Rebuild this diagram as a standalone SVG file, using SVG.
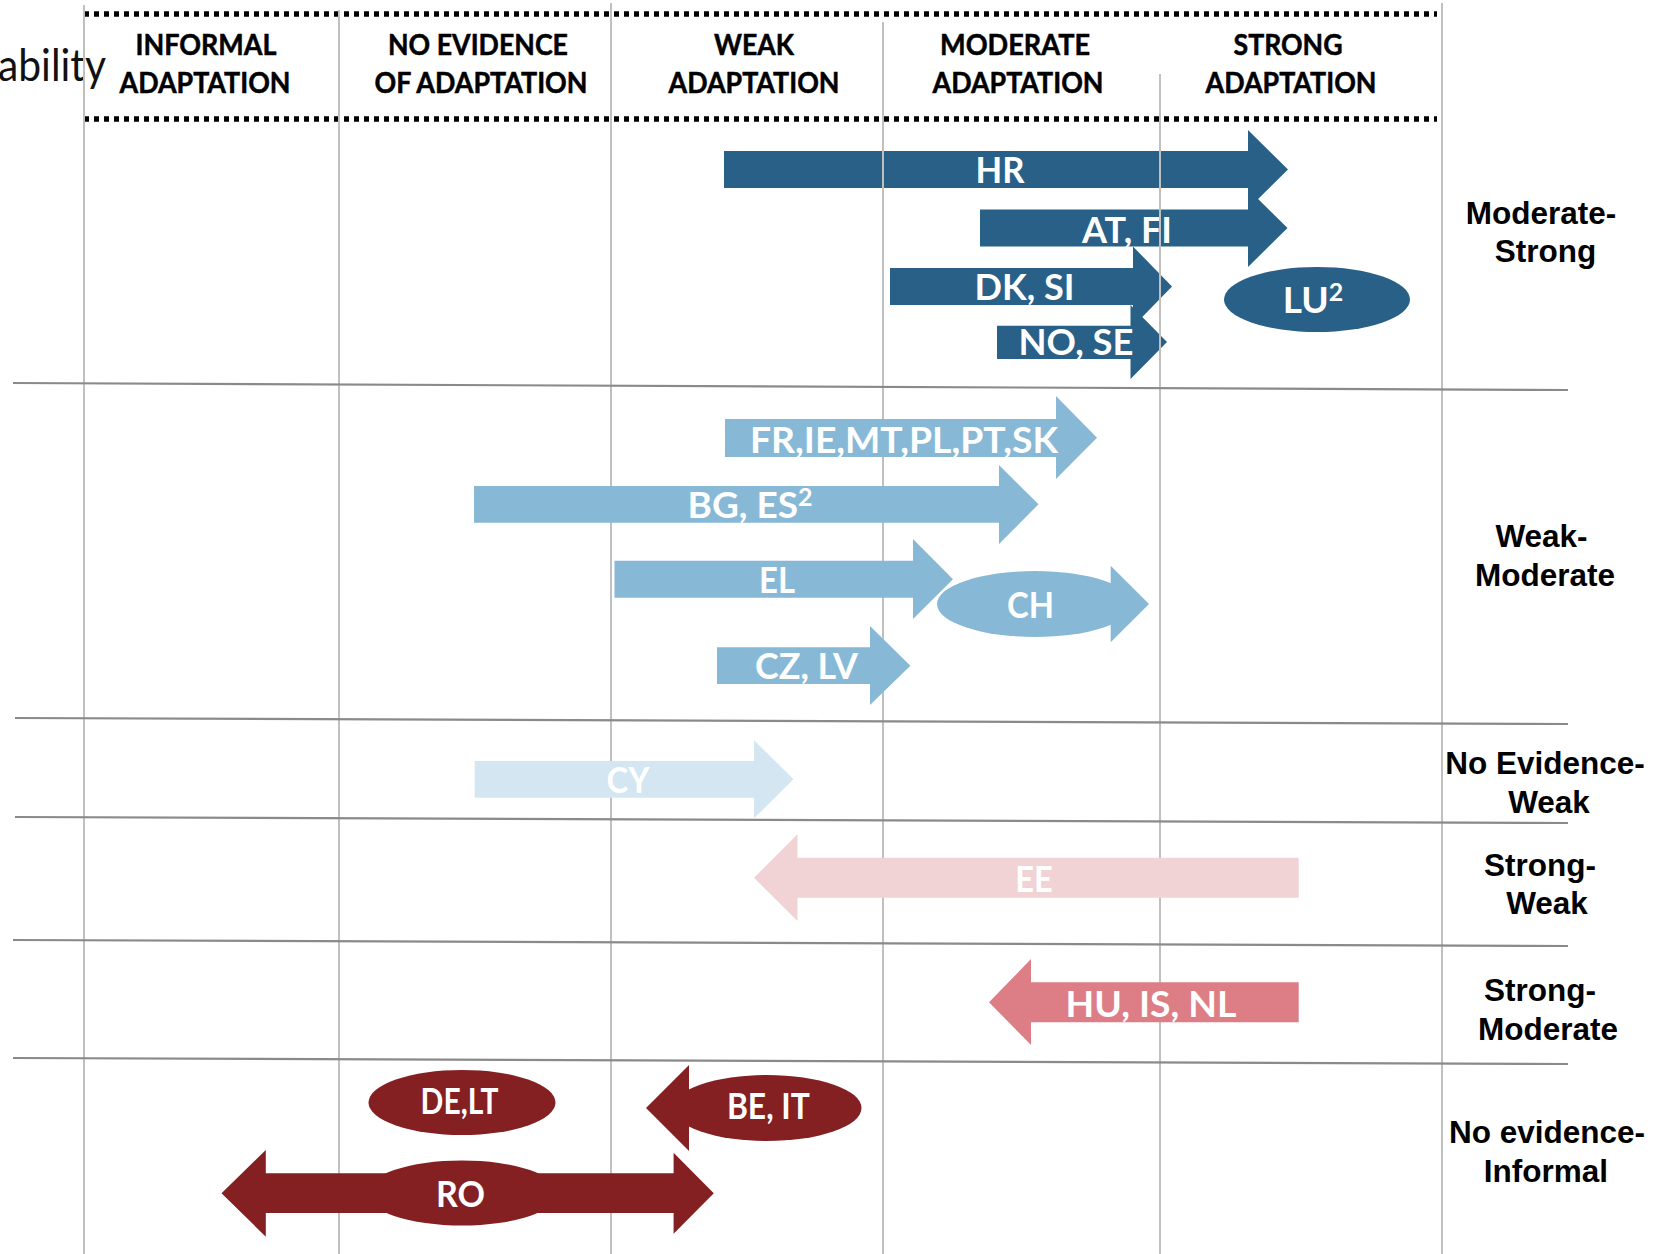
<svg xmlns="http://www.w3.org/2000/svg" width="1665" height="1254" viewBox="0 0 1665 1254">
<style>
.hdr{font-family:Lato,'Open Sans','Liberation Sans',sans-serif;font-weight:700;font-size:29px;fill:#000;stroke:#000;stroke-width:0.5;text-anchor:middle}
.lbl{font-family:Lato,'Open Sans','Liberation Sans',sans-serif;font-weight:700;font-size:37px;fill:#fff;text-anchor:middle}
.row{font-family:'Liberation Sans',Arial,sans-serif;font-weight:700;font-size:31.5px;fill:#000;text-anchor:middle}
.vg{stroke:#c0c0c0;stroke-width:2;fill:none}
.hg{stroke:#8a8a8a;stroke-width:2.2;fill:none}
.dot{stroke:#000;stroke-width:5.5;stroke-dasharray:5 5;fill:none}
.db{fill:#296087}
.lb{fill:#87b9d7}
.cy{fill:#d4e6f2}
.ee{fill:#f1d3d5}
.hu{fill:#dd7e87}
.dr{fill:#842022}
</style>
<rect width="1665" height="1254" fill="#fff"/>

<!-- header -->
<g id="header">
  <text x="106" y="81" font-family="Lato,'Open Sans',sans-serif" font-size="45" fill="#111" text-anchor="end" textLength="108" lengthAdjust="spacingAndGlyphs">ability</text>
  <line class="dot" x1="84" y1="14" x2="1437" y2="14"/>
  <line class="dot" x1="84" y1="119" x2="1437" y2="119"/>
  <text class="hdr" x="206" y="55" textLength="141" lengthAdjust="spacingAndGlyphs">INFORMAL</text>
  <text class="hdr" x="205" y="93" textLength="171" lengthAdjust="spacingAndGlyphs">ADAPTATION</text>
  <text class="hdr" x="478" y="55" textLength="180" lengthAdjust="spacingAndGlyphs">NO EVIDENCE</text>
  <text class="hdr" x="481" y="93" textLength="213" lengthAdjust="spacingAndGlyphs">OF ADAPTATION</text>
  <text class="hdr" x="754" y="55" textLength="80" lengthAdjust="spacingAndGlyphs">WEAK</text>
  <text class="hdr" x="754" y="93" textLength="171" lengthAdjust="spacingAndGlyphs">ADAPTATION</text>
  <text class="hdr" x="1015" y="55" textLength="150" lengthAdjust="spacingAndGlyphs">MODERATE</text>
  <text class="hdr" x="1018" y="93" textLength="171" lengthAdjust="spacingAndGlyphs">ADAPTATION</text>
  <text class="hdr" x="1288" y="55" textLength="109" lengthAdjust="spacingAndGlyphs">STRONG</text>
  <text class="hdr" x="1291" y="93" textLength="171" lengthAdjust="spacingAndGlyphs">ADAPTATION</text>
</g>

<!-- top row nodes (grid lines drawn over them) -->
<g id="node-HR">
  <path class="db" d="M724,151H1248V130L1288,169.5L1248,209V188H724Z"/>
  <text class="lbl" x="1000" y="183" textLength="49" lengthAdjust="spacingAndGlyphs">HR</text>
</g>
<g id="node-AT-FI">
  <path class="db" d="M980,209.5H1248V189L1287.5,228L1248,267V246.5H980Z"/>
  <text class="lbl" x="1127" y="242.5" textLength="90" lengthAdjust="spacingAndGlyphs">AT, FI</text>
</g>
<g id="node-DK-SI">
  <path class="db" d="M890,268H1133V246.5L1172,286.5L1133,326.5V305H890Z"/>
  <text class="lbl" x="1024.5" y="300" textLength="100" lengthAdjust="spacingAndGlyphs">DK, SI</text>
</g>
<g id="node-NO-SE">
  <path class="db" d="M997,325.7H1130.5V305L1167,342L1130.5,379V359H997Z"/>
  <text class="lbl" x="1076" y="355" textLength="115" lengthAdjust="spacingAndGlyphs">NO, SE</text>
</g>
<g id="node-LU">
  <ellipse class="db" cx="1317" cy="299.5" rx="93" ry="32.5"/>
  <text class="lbl" x="1313" y="313">LU<tspan font-size="25" dy="-12">2</tspan></text>
</g>

<!-- grid -->
<g id="grid">
  <line class="vg" x1="84" y1="5" x2="84" y2="1254"/>
  <line class="vg" x1="339" y1="10" x2="339" y2="1254"/>
  <line class="vg" x1="611" y1="3" x2="611" y2="1254"/>
  <line class="vg" x1="883" y1="22" x2="883" y2="1254"/>
  <line class="vg" x1="1160" y1="74" x2="1160" y2="1254"/>
  <line class="vg" x1="1442" y1="3" x2="1442" y2="1254"/>
  <line class="hg" x1="13" y1="383" x2="1568" y2="390"/>
  <line class="hg" x1="15" y1="718" x2="1568" y2="724"/>
  <line class="hg" x1="15" y1="817" x2="1568" y2="823"/>
  <line class="hg" x1="13" y1="940" x2="1568" y2="946"/>
  <line class="hg" x1="13" y1="1058" x2="1568" y2="1064"/>
</g>

<!-- row labels -->
<g id="row-labels">
  <text class="row" x="1541" y="223.5">Moderate-</text>
  <text class="row" x="1545.5" y="262">Strong</text>
  <text class="row" x="1541.5" y="547">Weak-</text>
  <text class="row" x="1545" y="585.5">Moderate</text>
  <text class="row" x="1545" y="774">No Evidence-</text>
  <text class="row" x="1549" y="813">Weak</text>
  <text class="row" x="1540" y="875.5">Strong-</text>
  <text class="row" x="1547" y="914">Weak</text>
  <text class="row" x="1540" y="1001">Strong-</text>
  <text class="row" x="1548" y="1040">Moderate</text>
  <text class="row" x="1547" y="1143">No evidence-</text>
  <text class="row" x="1546" y="1182">Informal</text>
</g>

<!-- weak-moderate -->
<g id="node-FR-IE-MT-PL-PT-SK">
  <path class="lb" d="M725,419H1056V396L1097,437.7L1056,479V457H725Z"/>
  <text class="lbl" x="904" y="452.5" textLength="308" lengthAdjust="spacingAndGlyphs">FR,IE,MT,PL,PT,SK</text>
</g>
<g id="node-BG-ES">
  <path class="lb" d="M474,486H999V465L1038.5,504.3L999,544V522.7H474Z"/>
  <text class="lbl" x="750" y="518">BG, ES<tspan font-size="25" dy="-12">2</tspan></text>
</g>
<g id="node-EL">
  <path class="lb" d="M614.5,560.7H913V539L953,579.3L913,619V597.7H614.5Z"/>
  <text class="lbl" x="777" y="593" textLength="36" lengthAdjust="spacingAndGlyphs">EL</text>
</g>
<g id="node-CH">
  <ellipse class="lb" cx="1035" cy="604" rx="98" ry="33"/>
  <path class="lb" d="M1110.7,565.7L1149,604L1110.7,642.3Z"/>
  <text class="lbl" x="1030.5" y="618" textLength="47" lengthAdjust="spacingAndGlyphs">CH</text>
</g>
<g id="node-CZ-LV">
  <path class="lb" d="M717,647.3H870V626L910.4,665.7L870,705V684H717Z"/>
  <text class="lbl" x="806.5" y="679" textLength="103" lengthAdjust="spacingAndGlyphs">CZ, LV</text>
</g>

<!-- no evidence-weak -->
<g id="node-CY">
  <path class="cy" d="M474.7,761H754V740L793.5,779.3L754,818.3V797.7H474.7Z"/>
  <text class="lbl" x="628" y="793.3" textLength="43" lengthAdjust="spacingAndGlyphs">CY</text>
</g>

<!-- strong-weak -->
<g id="node-EE">
  <path class="ee" d="M1298.7,857.7H797.5V834.3L754,877.7L797.5,921V897.7H1298.7Z"/>
  <text class="lbl" x="1034" y="891.7" textLength="37.5" lengthAdjust="spacingAndGlyphs">EE</text>
</g>

<!-- strong-moderate -->
<g id="node-HU-IS-NL">
  <path class="hu" d="M1298.7,982.3H1031V959L989,1002.3L1031,1045V1022.3H1298.7Z"/>
  <text class="lbl" x="1151" y="1016.7" textLength="171" lengthAdjust="spacingAndGlyphs">HU, IS, NL</text>
</g>

<!-- no evidence-informal -->
<g id="node-DE-LT">
  <ellipse class="dr" cx="462" cy="1102.5" rx="93.5" ry="32.5"/>
  <text class="lbl" x="459.6" y="1114.3" textLength="78" lengthAdjust="spacingAndGlyphs">DE,LT</text>
</g>
<g id="node-BE-IT">
  <ellipse class="dr" cx="767" cy="1108" rx="94.5" ry="33"/>
  <path class="dr" d="M689,1065L646,1108L689,1151Z"/>
  <text class="lbl" x="768.4" y="1119.3" textLength="83" lengthAdjust="spacingAndGlyphs">BE, IT</text>
</g>
<g id="node-RO">
  <path class="dr" d="M221.5,1193.3L265.8,1150V1173.3H673.6V1152.7L713.8,1193.3L673.6,1233.8V1213H265.8V1236.7Z"/>
  <ellipse class="dr" cx="462" cy="1193" rx="96" ry="32.5"/>
  <text class="lbl" x="460.5" y="1207.3" textLength="49" lengthAdjust="spacingAndGlyphs">RO</text>
</g>

<g id="connectors"/>
</svg>
